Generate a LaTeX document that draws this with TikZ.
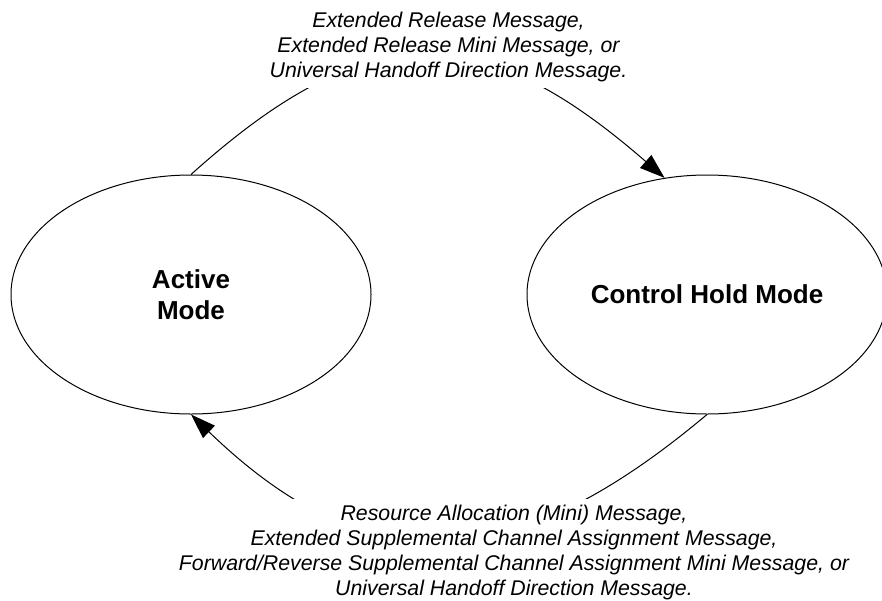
\documentclass[tikz,border=0pt]{standalone}
\usepackage{fontspec}
\setmainfont{Liberation Sans}
\usepackage{tikz}
\usetikzlibrary{shapes.geometric, arrows.meta, positioning}

\begin{document}
\begin{tikzpicture}[
    x=0.5pt, y=0.5pt,
    node distance=77.5pt,
    state/.style={ellipse, draw, line width=0.5pt, minimum width=180pt, minimum height=119.5pt, inner sep=0pt, align=center, font=\fontsize{13}{15.5}\selectfont\bfseries},
    msg/.style={fill=white, inner sep=3pt, align=center, font=\fontsize{10.65}{12.5}\selectfont\itshape},
    arr/.style={-{Triangle[length=12.5pt, width=8.5pt]}, line width=0.5pt},
]
    \useasboundingbox (0,0) rectangle (882,-600);
    \node[state] (active) at (191,-294.5) {Active\\Mode};
    \node[state, right=of active] (hold) {Control Hold Mode};

    \draw[arr] (active.north) to[out=42, in=139, looseness=1.3] (hold.110);
    \draw[arr] (hold.south) to[out=220, in=316, looseness=1.24] (active.south);

    \node[msg] (release) at (448.5,-47) {Extended Release Message,\\Extended Release Mini Message, or\\Universal Handoff Direction Message.};
    \node[msg] (alloc) at (514,-552) {Resource Allocation (Mini) Message,\\Extended Supplemental Channel Assignment Message,\\Forward/Reverse Supplemental Channel Assignment Mini Message, or\\Universal Handoff Direction Message.};
\end{tikzpicture}
\end{document}
